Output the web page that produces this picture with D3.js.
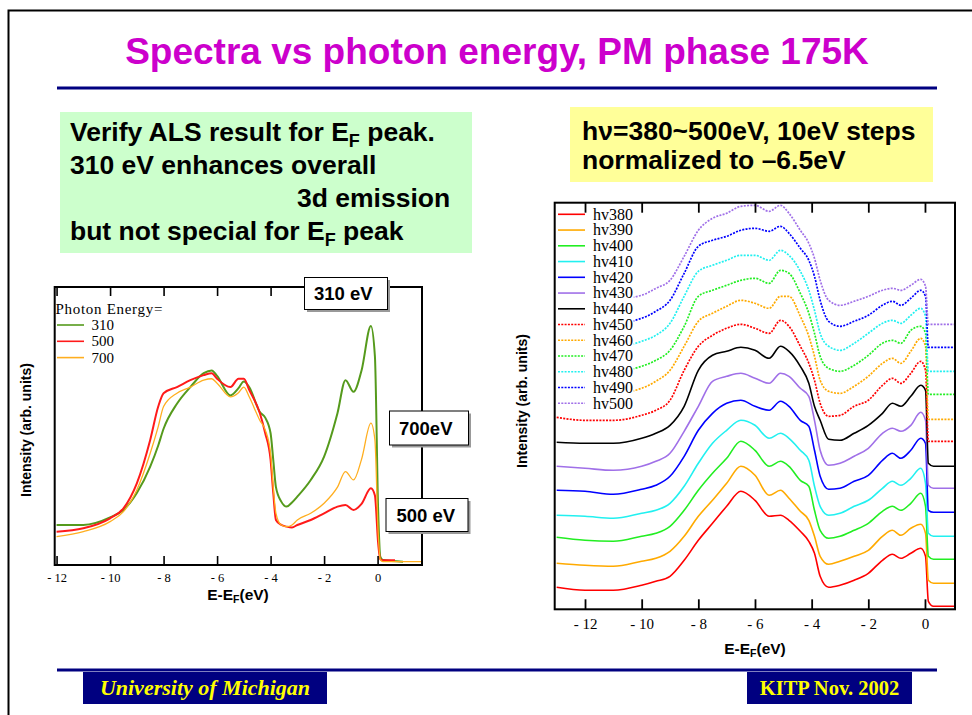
<!DOCTYPE html>
<html>
<head>
<meta charset="utf-8">
<script src="https://cdn.jsdelivr.net/npm/d3@7"></script>
<style>
  html, body { margin: 0; padding: 0; background: #fff; }
  svg { display: block; }
</style>
</head>
<body>
<svg id="slide" width="972" height="715"></svg>
<script>
// ---------- Left panel: photon energy comparison (310 / 500 / 700 eV) ----------
const leftEnergy = [-12, -11, -10, -9.5, -9, -8.5, -8.2, -8, -7.5, -7, -6.5, -6.2, -6, -5.5, -5.2, -5, -4.8,
  -4.4, -4.2, -4, -3.9, -3.8, -3.6, -3.4, -3.2, -3, -2.5, -2, -1.5, -1.2, -0.9, -0.6, -0.25, -0.1, 0.02, 0.1, 0.2];
const leftSeriesNames = ["310", "500", "700"];
const leftEnds = [0.95, 0.65, 1.66];          // last energy of each scan
const int310 = [14.4, 14.4, 17.1, 19.8, 25.9, 35.4, 43, 49, 58, 64, 69, 70, 68, 61, 63.6, 66, 64,
  55, 53, 47.4, 37.8, 28, 22.8, 21, 22.5, 24.6, 30.6, 39, 54.6, 66.5, 62.3, 70, 86, 75, 20, 3, 1.8, 1.2];
const int500 = [12, 13.2, 16.8, 20.4, 29.4, 45, 57, 61.8, 64, 66.5, 68.3, 69, 67, 64, 67, 67, 63,
  54.6, 47.4, 37.8, 25.9, 16.2, 14.4, 13.8, 13.5, 14.4, 16.2, 18.6, 21, 21.6, 19.8, 22, 27.6, 25, 8, 2, 1.7, 1.7];
const int700 = [10.2, 12, 15.6, 19.2, 27, 40.2, 49.8, 57, 61.8, 64, 66.5, 67, 65.4, 60.5, 62, 64, 60.5,
  52, 48.6, 40.2, 28, 18.6, 14.4, 13.8, 14.4, 16.2, 18.6, 22.2, 28, 33.6, 30.6, 38, 51, 45, 12, 2, 1.2, 1.2];
const leftColors = ["#559a1c", "#ff1a1a", "#ffae1f"];
const leftWidths = [2, 2, 1.3];

// ---------- Right panel: hv = 380 ... 500 eV, stacked ----------
const rightEnergy = [-13, -12, -11, -10, -9.5, -9, -8.5, -8, -7.5, -7, -6.5, -6, -5.5, -5.1, -4.8, -4.4,
  -4.1, -3.9, -3.7, -3.4, -3, -2.5, -2, -1.5, -1.15, -0.85, -0.5, -0.15, 0.02, 0.12, 0.3, 1.06];
const rightSeriesNames = ["hv380", "hv390", "hv400", "hv410", "hv420", "hv430", "hv440",
  "hv450", "hv460", "hv470", "hv480", "hv490", "hv500"];
const hv380 = [22, 19, 19, 24, 28, 33, 49, 69, 86, 103, 118, 109, 93, 94, 89, 78, 68, 56, 33, 22, 24, 29, 36, 49, 55, 51, 56, 61, 53, 8, 3, 3];
const hv390 = [46, 44, 43, 48, 51, 58, 73, 93, 109, 126, 143, 134, 114, 119, 111, 98, 89, 73, 53, 45, 48, 53, 59, 73, 79, 74, 81, 85, 76, 29, 26, 26];
const hv400 = [72, 69, 68, 73, 76, 83, 99, 119, 136, 151, 168, 159, 143, 148, 143, 129, 123, 99, 79, 71, 73, 79, 86, 98, 103, 99, 106, 116, 103, 53, 50, 50];
const hv410 = [94, 93, 91, 96, 99, 106, 123, 146, 166, 179, 189, 184, 171, 176, 171, 159, 149, 123, 103, 94, 96, 103, 109, 121, 128, 124, 131, 141, 126, 76, 73, 73];
const hv420 = [119, 118, 115, 120, 124, 133, 153, 179, 196, 206, 209, 203, 199, 208, 203, 189, 183, 159, 133, 120, 121, 128, 134, 149, 156, 151, 159, 171, 166, 99, 97, 97];
const hv430 = [143, 141, 139, 143, 148, 156, 178, 203, 228, 233, 236, 231, 226, 236, 233, 221, 213, 189, 159, 144, 146, 153, 161, 176, 181, 178, 184, 197, 189, 124, 121, 121];
const hv440 = [167, 166, 166, 171, 176, 184, 203, 239, 254, 258, 262, 259, 251, 263, 258, 243, 226, 203, 189, 170, 169, 176, 184, 196, 206, 203, 213, 224, 219, 146, 143, 143];
const hv450 = [192, 189, 189, 194, 199, 209, 239, 263, 274, 281, 285, 281, 276, 289, 283, 263, 246, 229, 206, 193, 194, 203, 209, 224, 231, 226, 236, 248, 239, 168, 168, 168];
const hv460 = [218, 216, 216, 221, 228, 239, 263, 288, 296, 303, 309, 306, 301, 313, 313, 293, 273, 253, 229, 218, 216, 223, 233, 246, 251, 246, 258, 271, 263, 190, 190, 190];
const hv470 = [239, 238, 238, 243, 249, 259, 283, 313, 319, 324, 329, 331, 326, 339, 336, 316, 296, 276, 253, 241, 238, 244, 254, 266, 269, 266, 279, 283, 276, 215, 215, 215];
const hv480 = [263, 262, 262, 268, 274, 286, 313, 338, 344, 349, 354, 354, 349, 359, 354, 338, 319, 299, 276, 263, 259, 266, 276, 286, 289, 286, 294, 301, 293, 238, 238, 238];
const hv490 = [287, 286, 286, 291, 298, 309, 336, 363, 369, 373, 379, 381, 378, 383, 376, 361, 349, 333, 309, 288, 283, 288, 294, 304, 308, 304, 311, 319, 313, 262, 262, 262];
const hv500 = [310, 309, 310, 314, 321, 329, 353, 379, 391, 396, 403, 404, 398, 404, 396, 379, 366, 351, 329, 309, 304, 308, 313, 319, 321, 319, 324, 330, 323, 285, 285, 285];
const rightColors = ["#ff0000", "#ffaa00", "#22ee22", "#22f0f0", "#0000ff", "#a070e8", "#000000",
  "#ff0000", "#ffaa00", "#22ee22", "#22f0f0", "#0000ff", "#a070e8"];
const rightDotted = [false, false, false, false, false, false, false, true, true, true, true, true, true];

const tickValues = [-12, -10, -8, -6, -4, -2, 0];

// ---------- helpers ----------
const SANS = "'Liberation Sans', Arial, Helvetica, sans-serif";
const SERIF = "'Liberation Serif', 'Times New Roman', Times, serif";
const svg = d3.select("#slide");
svg.append("rect").attr("width", 972).attr("height", 715).attr("fill", "#fff");

// text line made of plain and subscript parts
function richText(parent, x, y, parts, size, opts = {}) {
  const t = parent.append("text")
    .attr("x", x).attr("y", y)
    .attr("font-family", opts.family || SANS)
    .attr("font-weight", opts.weight || "bold")
    .attr("font-size", size)
    .attr("fill", opts.fill || "#000");
  if (opts.anchor) t.attr("text-anchor", opts.anchor);
  let shifted = 0;
  parts.forEach(p => {
    const s = t.append("tspan").text(p.t);
    if (p.sub) {
      s.attr("font-size", size * 0.68).attr("dy", size * 0.22);
      shifted = size * 0.22;
    } else if (shifted) {
      s.attr("dy", -shifted);
      shifted = 0;
    }
  });
  return t;
}
const tickFmt = d => d < 0 ? "- " + Math.abs(d) : String(d);

// ---------- slide frame, title, rules ----------
svg.append("path").attr("d", "M8.5,715 V10.5 H972").attr("fill", "none")
  .attr("stroke", "#000").attr("stroke-width", 2);

svg.append("text").attr("x", 497).attr("y", 64).attr("text-anchor", "middle")
  .attr("font-family", SANS).attr("font-weight", "bold").attr("font-size", 37)
  .attr("fill", "#cc00cc").text("Spectra vs photon energy, PM phase 175K");

svg.append("line").attr("x1", 57).attr("x2", 937).attr("y1", 88).attr("y2", 88)
  .attr("stroke", "#000080").attr("stroke-width", 3);
svg.append("line").attr("x1", 57).attr("x2", 937).attr("y1", 670).attr("y2", 670)
  .attr("stroke", "#000080").attr("stroke-width", 3);

// ---------- note boxes ----------
svg.append("rect").attr("x", 60).attr("y", 112).attr("width", 412).attr("height", 141).attr("fill", "#ccffcc");
richText(svg, 70, 141, [{t: "Verify ALS result for E"}, {t: "F", sub: true}, {t: " peak."}], 26.5);
richText(svg, 70, 174, [{t: "310 eV enhances overall"}], 26.5);
richText(svg, 297, 207, [{t: "3d emission"}], 26.5);
richText(svg, 70, 240, [{t: "but not special for E"}, {t: "F", sub: true}, {t: " peak"}], 26.5);

svg.append("rect").attr("x", 570).attr("y", 107).attr("width", 363).attr("height", 75).attr("fill", "#ffff99");
richText(svg, 582, 140, [{t: "h\u03bd=380~500eV, 10eV steps"}], 26.5);
richText(svg, 582, 169, [{t: "normalized to \u20136.5eV"}], 26.5);

// ---------- left chart ----------
const L = {left: 54.7, right: 422, top: 287, bottom: 565};
const xL = d3.scaleLinear().domain([-12.07, 1.66]).range([L.left, L.right]);
const yL = d3.scaleLinear().domain([0, 100]).range([L.bottom, L.top]);
const gL = svg.append("g");

[int310, int500, int700].forEach((vals, i) => {
  const pts = leftEnergy.map((e, j) => [e, vals[j]]);
  pts.push([leftEnds[i], vals[vals.length - 1]]);
  gL.append("path").datum(pts)
    .attr("fill", "none").attr("stroke", leftColors[i]).attr("stroke-width", leftWidths[i])
    .attr("stroke-linejoin", "round")
    .attr("d", d3.line().x(d => xL(d[0])).y(d => yL(d[1])).curve(d3.curveMonotoneX));
});

gL.append("g").attr("transform", `translate(0,${L.bottom})`)
  .call(d3.axisBottom(xL).tickValues(tickValues).tickSizeInner(-9).tickSizeOuter(0).tickPadding(8.5).tickFormat(tickFmt))
  .call(g => g.select(".domain").remove())
  .call(g => g.selectAll("line").attr("stroke", "#000").attr("stroke-width", 1.6))
  .call(g => g.selectAll("text").attr("font-family", SERIF).attr("font-size", 12.5).attr("fill", "#000"));
gL.append("g").attr("transform", `translate(0,${L.top})`)
  .call(d3.axisTop(xL).tickValues(tickValues).tickSizeInner(-9).tickSizeOuter(0).tickFormat(""))
  .call(g => g.select(".domain").remove())
  .call(g => g.selectAll("line").attr("stroke", "#000").attr("stroke-width", 1.6));
gL.append("rect").attr("x", L.left).attr("y", L.top).attr("width", L.right - L.left).attr("height", L.bottom - L.top)
  .attr("fill", "none").attr("stroke", "#000").attr("stroke-width", 2);

richText(gL, 238, 600, [{t: "E-E"}, {t: "F", sub: true}, {t: "(eV)"}], 15.5, {anchor: "middle"});
gL.append("text").attr("transform", "translate(31,430) rotate(-90)").attr("text-anchor", "middle")
  .attr("font-family", SANS).attr("font-weight", "bold").attr("font-size", 14).text("Intensity (arb. units)");

// legend
gL.append("text").attr("x", 55.5).attr("y", 313.5).attr("font-family", SERIF).attr("font-size", 15)
  .attr("letter-spacing", 0.7).text("Photon Energy=");
leftSeriesNames.forEach((n, i) => {
  const y = 325 + i * 16.3;
  gL.append("line").attr("x1", 57).attr("x2", 84).attr("y1", y).attr("y2", y)
    .attr("stroke", leftColors[i]).attr("stroke-width", 1.6);
  gL.append("text").attr("x", 91.5).attr("y", y + 5).attr("font-family", SERIF).attr("font-size", 15).text(n);
});

// callout labels
function callout(x, y, w, h, label, tx) {
  svg.append("rect").attr("x", x + 2.5).attr("y", y + 2.5).attr("width", w).attr("height", h).attr("fill", "#999");
  svg.append("rect").attr("x", x).attr("y", y).attr("width", w).attr("height", h)
    .attr("fill", "#fff").attr("stroke", "#000").attr("stroke-width", 1);
  svg.append("text").attr("x", tx).attr("y", y + h / 2 + 6.5).attr("font-family", SANS).attr("font-weight", "bold")
    .attr("font-size", 18.5).text(label);
}
callout(304.5, 277.5, 83, 32, "310 eV", 314);
callout(389.5, 411, 79, 34, "700eV", 399);
callout(386, 498.5, 82, 33, "500 eV", 396.5);

// ---------- right chart ----------
const R = {left: 554.7, right: 955, top: 202.7, bottom: 609.3};
const xR = d3.scaleLinear().domain([-13.07, 1.06]).range([R.left, R.right]);
const yR = d3.scaleLinear().domain([0, 406.6]).range([R.bottom, R.top]);
const gR = svg.append("g");
const rightValues = [hv380, hv390, hv400, hv410, hv420, hv430, hv440, hv450, hv460, hv470, hv480, hv490, hv500];

rightValues.forEach((vals, i) => {
  const p = gR.append("path").datum(rightEnergy.map((e, j) => [e, vals[j]]))
    .attr("fill", "none").attr("stroke", rightColors[i]).attr("stroke-width", rightDotted[i] ? 1.7 : 1.6)
    .attr("stroke-linejoin", "round")
    .attr("d", d3.line().x(d => xR(d[0])).y(d => yR(d[1])).curve(d3.curveMonotoneX));
  if (rightDotted[i]) p.attr("stroke-dasharray", "2,1.3");
});

// legend (opaque)
gR.append("rect").attr("x", R.left + 1).attr("y", R.top + 1).attr("width", 78).attr("height", 207).attr("fill", "#fff");
rightSeriesNames.forEach((n, i) => {
  const y = 214.3 + i * 15.75;
  const ln = gR.append("line").attr("x1", 558).attr("x2", 585).attr("y1", y).attr("y2", y)
    .attr("stroke", rightColors[i]).attr("stroke-width", 1.6);
  if (rightDotted[i]) ln.attr("stroke-dasharray", "2,1.3");
  gR.append("text").attr("x", 593).attr("y", y + 5.3).attr("font-family", SERIF).attr("font-size", 16).text(n);
});

gR.append("g").attr("transform", `translate(0,${R.bottom})`)
  .call(d3.axisBottom(xR).tickValues(tickValues).tickSizeInner(-10).tickSizeOuter(0).tickPadding(9.5).tickFormat(tickFmt))
  .call(g => g.select(".domain").remove())
  .call(g => g.selectAll("line").attr("stroke", "#000").attr("stroke-width", 1.8))
  .call(g => g.selectAll("text").attr("font-family", SERIF).attr("font-size", 15).attr("fill", "#000"));
gR.append("g").attr("transform", `translate(0,${R.top})`)
  .call(d3.axisTop(xR).tickValues(tickValues).tickSizeInner(-10).tickSizeOuter(0).tickFormat(""))
  .call(g => g.select(".domain").remove())
  .call(g => g.selectAll("line").attr("stroke", "#000").attr("stroke-width", 1.8));
gR.append("rect").attr("x", R.left).attr("y", R.top).attr("width", R.right - R.left).attr("height", R.bottom - R.top)
  .attr("fill", "none").attr("stroke", "#000").attr("stroke-width", 2);

richText(gR, 755, 654, [{t: "E-E"}, {t: "F", sub: true}, {t: "(eV)"}], 15.5, {anchor: "middle"});
gR.append("text").attr("transform", "translate(527,401) rotate(-90)").attr("text-anchor", "middle")
  .attr("font-family", SANS).attr("font-weight", "bold").attr("font-size", 14).text("Intensity (arb. units)");

// ---------- footer ----------
svg.append("rect").attr("x", 83).attr("y", 672).attr("width", 244).attr("height", 32).attr("fill", "#000080");
svg.append("text").attr("x", 205).attr("y", 695).attr("text-anchor", "middle").attr("font-family", SERIF)
  .attr("font-style", "italic").attr("font-weight", "bold").attr("font-size", 22).attr("fill", "#ffff00")
  .text("University of Michigan");
svg.append("rect").attr("x", 747).attr("y", 672).attr("width", 165).attr("height", 32).attr("fill", "#000080");
svg.append("text").attr("x", 829.5).attr("y", 695).attr("text-anchor", "middle").attr("font-family", SERIF)
  .attr("font-weight", "bold").attr("font-size", 20.5).attr("fill", "#ffff00")
  .text("KITP Nov. 2002");
</script>
</body>
</html>
